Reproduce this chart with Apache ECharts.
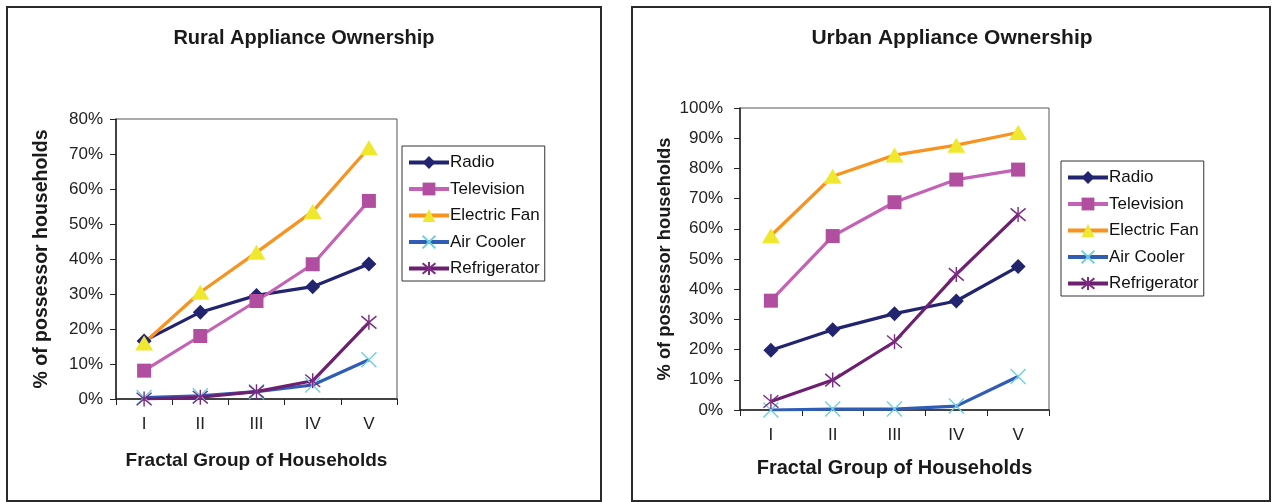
<!DOCTYPE html>
<html>
<head>
<meta charset="utf-8">
<script src="https://cdn.jsdelivr.net/npm/echarts@6/dist/echarts.min.js"></script>
<style>
  html, body { margin: 0; padding: 0; background: #fff; }
  #chart { width: 1274px; height: 502px; }
</style>
</head>
<body>
<div id="chart"></div>
<script>
// Household groups (fractals) and ownership shares, in percent
const groups = ['I', 'II', 'III', 'IV', 'V'];

const ruralRadio        = [16.6, 24.8, 29.6, 32.1, 38.6];
const ruralTelevision   = [8.1, 18.0, 28.0, 38.5, 56.6];
const ruralElectricFan  = [16.0, 30.5, 41.9, 53.6, 71.8];
const ruralAirCooler    = [0.4, 0.9, 2.1, 4.0, 11.2];
const ruralRefrigerator = [0.0, 0.5, 2.1, 5.2, 21.9];

const urbanRadio        = [19.8, 26.6, 31.9, 36.1, 47.5];
const urbanTelevision   = [36.2, 57.6, 68.8, 76.3, 79.6];
const urbanElectricFan  = [57.7, 77.4, 84.4, 87.7, 91.9];
const urbanAirCooler    = [0.0, 0.3, 0.3, 1.3, 11.1];
const urbanRefrigerator = [2.8, 9.9, 22.6, 44.9, 64.7];

const ruralTicks = { max: 80, step: 10 };
const urbanTicks = { max: 100, step: 10 };

const FONT = '"Liberation Sans", Arial, sans-serif';

const crossPath = 'path://M0,0L10,10M0,10L10,0';
const starPath = 'path://M0,0L10,10M0,10L10,0M5,-1L5,11';

const styles = {
  Radio:          { line: '#232470', marker: '#232470', symbol: 'diamond', size: 15 },
  Television:     { line: '#c462b6', marker: '#b24e9f', symbol: 'rect', size: 14 },
  'Electric Fan': { line: '#f7931e', marker: '#efe82e', symbol: 'triangle', size: [18, 15] },
  'Air Cooler':   { line: '#2f5cb4', marker: '#6dd0e2', symbol: crossPath, size: 15, stroke: true },
  Refrigerator:   { line: '#6d1f70', marker: '#7b2b80', symbol: starPath, size: 15, stroke: true }
};

function makeSeries(name, data, idx) {
  const s = styles[name];
  const itemStyle = s.stroke
    ? { color: 'rgba(0,0,0,0)', borderColor: s.marker, borderWidth: 1.4 }
    : { color: s.marker, borderWidth: 0 };
  return {
    name: name,
    type: 'line',
    xAxisIndex: idx,
    yAxisIndex: idx,
    data: data,
    symbol: s.symbol,
    symbolSize: s.size,
    showAllSymbol: true,
    lineStyle: { color: s.line, width: 3.2 },
    itemStyle: itemStyle,
    emphasis: { disabled: true },
    animation: false,
    z: 3
  };
}

const names = ['Radio', 'Television', 'Electric Fan', 'Air Cooler', 'Refrigerator'];
const ruralData = [ruralRadio, ruralTelevision, ruralElectricFan, ruralAirCooler, ruralRefrigerator];
const urbanData = [urbanRadio, urbanTelevision, urbanElectricFan, urbanAirCooler, urbanRefrigerator];

function xAxisFor(idx, gap, nameSize) {
  return {
    type: 'category',
    gridIndex: idx,
    data: groups,
    boundaryGap: true,
    axisLine: { show: true, lineStyle: { color: '#222', width: 1.5 } },
    axisTick: { show: true, inside: false, length: 6, alignWithLabel: false, lineStyle: { color: '#222', width: 1 } },
    axisLabel: { color: '#222', fontSize: 17, fontFamily: FONT, margin: 17 },
    splitLine: { show: false },
    name: 'Fractal Group of Households',
    nameLocation: 'middle',
    nameGap: gap,
    nameTextStyle: { color: '#1a1a1a', fontSize: nameSize, fontWeight: 'bold', fontFamily: FONT }
  };
}

function yAxisFor(idx, ticks, gap, nameSize, labelMargin) {
  return {
    type: 'value',
    gridIndex: idx,
    min: 0,
    max: ticks.max,
    interval: ticks.step,
    axisLine: { show: true, lineStyle: { color: '#222', width: 1.5 } },
    axisTick: { show: true, inside: false, length: 6, lineStyle: { color: '#222', width: 1 } },
    axisLabel: { color: '#222', fontSize: 17, fontFamily: FONT, margin: labelMargin, formatter: '{value}%' },
    splitLine: { show: false },
    name: '% of possessor households',
    nameLocation: 'middle',
    nameRotate: 90,
    nameGap: gap,
    nameTextStyle: { color: '#1a1a1a', fontSize: nameSize, fontWeight: 'bold', fontFamily: FONT }
  };
}

function legendFor(left, top) {
  return {
    orient: 'vertical',
    left: left,
    top: top,
    data: names,
    itemWidth: 40,
    itemHeight: 16,
    itemGap: 9.5,
    padding: [8, 5, 4, 5],
    borderColor: '#333',
    borderWidth: 1,
    backgroundColor: '#fff',
    selectedMode: false,
    lineStyle: { width: 4 },
    textStyle: { color: '#111', fontSize: 17, fontFamily: FONT, padding: [0, 0, 0, -4] }
  };
}

const chart = echarts.init(document.getElementById('chart'), null, { renderer: 'canvas' });

const option = {
  backgroundColor: '#fff',
  animation: false,
  graphic: [
    { type: 'rect', shape: { x: 7, y: 7, width: 594, height: 494 }, style: { fill: 'none', stroke: '#2a2a2a', lineWidth: 2 }, z: -10, silent: true },
    { type: 'rect', shape: { x: 632, y: 7, width: 638, height: 494 }, style: { fill: 'none', stroke: '#2a2a2a', lineWidth: 2 }, z: -10, silent: true },
    { type: 'text', x: 304, y: 38, style: { text: 'Rural Appliance Ownership', fill: '#1a1a1a', font: 'bold 20px ' + FONT, textAlign: 'center', textVerticalAlign: 'middle' }, silent: true },
    { type: 'text', x: 952, y: 38, style: { text: 'Urban Appliance Ownership', fill: '#1a1a1a', font: 'bold 21px ' + FONT, textAlign: 'center', textVerticalAlign: 'middle' }, silent: true }
  ],
  grid: [
    { left: 116, top: 119, width: 281, height: 280, show: true, borderColor: '#555', borderWidth: 1, backgroundColor: '#fff' },
    { left: 740, top: 108, width: 309, height: 302, show: true, borderColor: '#555', borderWidth: 1, backgroundColor: '#fff' }
  ],
  xAxis: [xAxisFor(0, 52, 19), xAxisFor(1, 48, 20)],
  yAxis: [yAxisFor(0, ruralTicks, 64, 19.5, 13), yAxisFor(1, urbanTicks, 66, 18.3, 17)],
  legend: [legendFor(402, 146), legendFor(1061, 161)],
  series: [
    ...names.map((n, i) => makeSeries(n, ruralData[i], 0)),
    ...names.map((n, i) => makeSeries(n, urbanData[i], 1))
  ]
};

chart.setOption(option);
</script>
</body>
</html>
